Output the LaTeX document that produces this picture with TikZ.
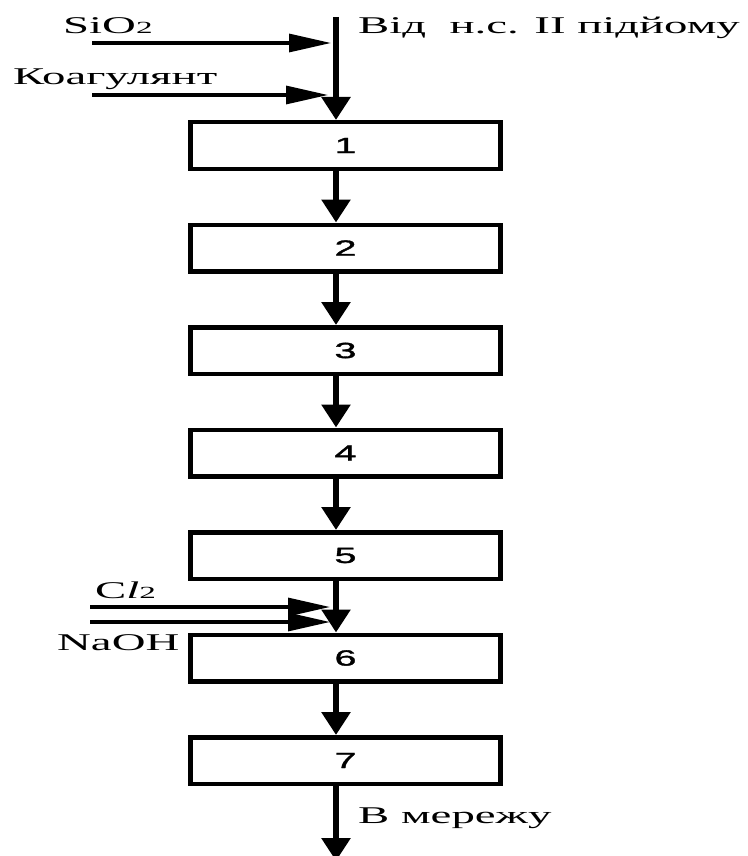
\documentclass[tikz,border=0pt]{standalone}
\usepackage{fontspec}
\setmainfont{Liberation Serif}[FakeStretch=1.95]
\newfontfamily\numfont{Liberation Sans}[FakeStretch=1.8,FakeBold=1.5]
\usetikzlibrary{arrows.meta,positioning}
\tikzset{
 stage/.style={draw,line width=4.5pt,minimum width=310pt,minimum height=46.5pt,inner sep=0pt,
   font=\numfont\fontsize{22}{22}\selectfont},
 arr/.style={-{Triangle[length=23pt,width=28pt]},line width=6.5pt},
 feed/.style={-{Triangle[length=42pt,width=18pt]},line width=3.2pt,shorten >=5pt},
 lbl/.style={font=\fontsize{24}{24}\selectfont,inner sep=0pt,anchor=base west}
}
\begin{document}
\begin{tikzpicture}[x=1pt,y=-1pt,node distance=51.5pt]
\useasboundingbox (0,0) rectangle (747,856);
% treatment stages
\node[stage] (b1) at (345.5,145.5) {1};
\node[stage,below=of b1] (b2) {2};
\node[stage,below=of b2] (b3) {3};
\node[stage,below=of b3] (b4) {4};
\node[stage,below=of b4] (b5) {5};
\node[stage,below=of b5] (b6) {6};
\node[stage,below=of b6] (b7) {7};
% main stream
\coordinate (src) at (336,17);
\coordinate (out) at (336,861);
\draw[arr] (src) -- (src |- b1.north);
\foreach \a/\b in {b1/b2,b2/b3,b3/b4,b4/b5,b5/b6,b6/b7}
  \draw[arr] ([xshift=-9.5pt]\a.south) -- ([xshift=-9.5pt]\b.north);
\draw[arr] ([xshift=-9.5pt]b7.south) -- (out);
% reagents
\coordinate (si) at (92,43);
\coordinate (ko) at (92,95);
\coordinate (cl) at (90,607);
\coordinate (na) at (90,622);
\draw[feed] (si) -- (si -| src);
\draw[feed,shorten >=8pt] (ko) -- (ko -| src);
\draw[feed,shorten >=6pt] (cl) -- (cl -| src);
\draw[feed,shorten >=6pt] (na) -- (na -| src);
% labels
\node[lbl] (lsi) at (63,34) {SiO{\fontsize{17}{17}\selectfont 2}};
\node[lbl] (lko) at (13,85) {Коагулянт};
\node[lbl] (lsrc) at (358,34) {Від\ \ н.с. II підйому};
\node[lbl] (lcl) at (95,598) {C\textit{l}{\fontsize{17}{17}\selectfont 2}};
\node[lbl] (lna) at (57,650) {NaOH};
\node[lbl] (lout) at (358,823) {В мережу};
\end{tikzpicture}
\end{document}
